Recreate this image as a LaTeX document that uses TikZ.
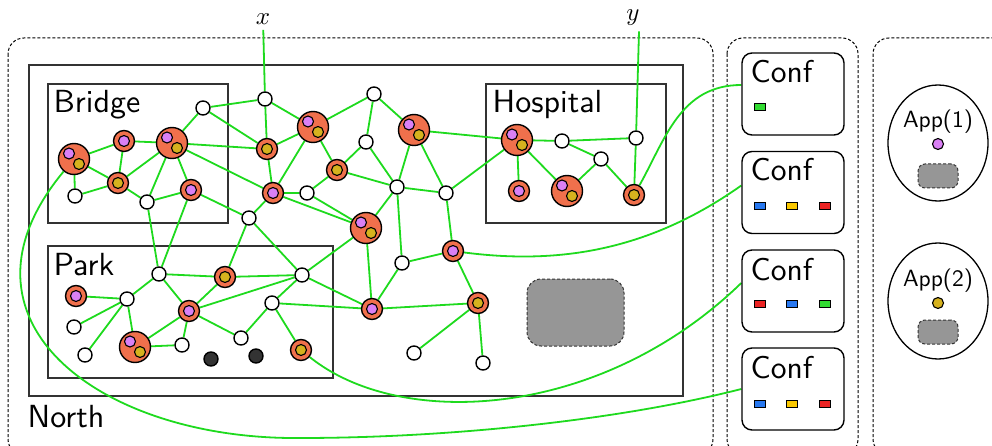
\documentclass[tikz,border=0pt]{standalone}
\usepackage{fix-cm}
\usetikzlibrary{shapes.geometric,backgrounds}

\definecolor{linkgreen}{RGB}{30,218,30}
\definecolor{devorange}{RGB}{240,112,76}
\definecolor{appviolet}{RGB}{218,128,245}
\definecolor{appgold}{RGB}{214,178,30}
\definecolor{cfgreen}{RGB}{50,220,50}
\definecolor{cfblue}{RGB}{40,120,240}
\definecolor{cfyellow}{RGB}{250,200,0}
\definecolor{cfred}{RGB}{235,35,35}
\definecolor{storegray}{RGB}{150,150,150}

\tikzset{
	wnode/.style={circle, draw, fill=white, line width=1.4pt, minimum size=14pt, inner sep=0pt},
	knode/.style={wnode, fill=black!80},
	devnode/.style={circle, draw, fill=devorange, line width=1.4pt, inner sep=0pt},
	pnode/.style={devnode, minimum size=21pt, path picture={\filldraw[fill=appviolet, line width=1.1pt] (path picture bounding box.center) circle (5.5pt);}},
	gnode/.style={devnode, minimum size=21pt, path picture={\filldraw[fill=appgold, line width=1.1pt] (path picture bounding box.center) circle (5.5pt);}},
	pgnode/.style={devnode, minimum size=31pt, path picture={
		\filldraw[fill=appviolet, line width=1.1pt] ([shift={(-5pt,5.5pt)}]path picture bounding box.center) circle (5.5pt);
		\filldraw[fill=appgold, line width=1.1pt] ([shift={(5pt,-5pt)}]path picture bounding box.center) circle (5.5pt);}},
	link/.style={linkgreen, line width=1.8pt},
	area/.style={draw=black!80, line width=1.6pt},
	zone/.style={draw=black, line width=1pt, dash pattern=on 3pt off 2pt, rounded corners=16pt},
	store/.style={draw=black!80, fill=storegray, line width=1pt, dash pattern=on 3pt off 2pt, inner sep=0pt},
	lbl/.style={font=\sffamily, scale=3.2, inner sep=0pt, anchor=base west},
	mlbl/.style={scale=2.5, inner sep=2pt},
	confbox/.style={draw, line width=1.4pt, rounded corners=10pt, minimum width=102pt, minimum height=82pt},
	sq/.style={draw, line width=1.1pt, minimum width=11pt, minimum height=7pt, inner sep=0pt},
	appell/.style={ellipse, draw, line width=1.3pt, minimum width=100pt, minimum height=116pt},
	apptext/.style={font=\sffamily, scale=2.35, inner sep=0pt, anchor=base},
	appdot/.style={circle, draw, line width=1.1pt, minimum size=11pt, inner sep=0pt}
}

\begin{document}
\begin{tikzpicture}[x=1pt, y=-1pt]
	\useasboundingbox (0,0) rectangle (992,446);

	\node[mlbl] (xlab) at (263,19) {$x$};
	\node[mlbl] (ylab) at (633,18) {$y$};

	\node[lbl] (northlbl) at (27,427) {North};
	\node[lbl] (bridgelbl) at (53,113) {Bridge};
	\node[lbl] (hosplbl) at (492,113) {Hospital};
	\node[lbl] (parklbl) at (53,275) {Park};

	\node[pgnode] (bA) at (74,159) {};
	\node[pnode] (bB) at (124,141) {};
	\node[pgnode] (bC) at (172,143) {};
	\node[gnode] (bD) at (118,183) {};
	\node[wnode] (bE) at (75,196) {};
	\node[wnode] (bF) at (147,202) {};
	\node[pnode] (bG) at (191,190) {};
	\node[wnode] (bH) at (203,108) {};

	\node[wnode] (cX) at (265,99) {};
	\node[gnode] (cA) at (267,149) {};
	\node[pgnode] (cB) at (313,127) {};
	\node[wnode] (cC) at (374,94) {};
	\node[wnode] (cD) at (366,142) {};
	\node[pgnode] (cE) at (414,130) {};
	\node[gnode] (cF) at (337,170) {};
	\node[pnode] (cG) at (273,193) {};
	\node[wnode] (cH) at (307,193) {};
	\node[wnode] (cI) at (397,187) {};
	\node[wnode] (cJ) at (446,193) {};
	\node[wnode] (cK) at (249,218) {};
	\node[pgnode] (cL) at (366,228) {};
	\node[pnode] (cM) at (453,251) {};
	\node[wnode] (cN) at (402,263) {};
	\node[pnode] (cO) at (372,309) {};
	\node[gnode] (cP) at (478,303) {};
	\node[wnode] (cQ) at (414,353) {};
	\node[wnode] (cR) at (483,363) {};

	\node[pgnode] (hA) at (517,140) {};
	\node[wnode] (hB) at (562,141) {};
	\node[wnode] (hC) at (601,159) {};
	\node[wnode] (hD) at (636,138) {};
	\node[pnode] (hE) at (519,191) {};
	\node[pgnode] (hF) at (567,191) {};
	\node[gnode] (hG) at (634,195) {};

	\node[wnode] (pA) at (159,274) {};
	\node[gnode] (pB) at (225,277) {};
	\node[wnode] (pC) at (302,275) {};
	\node[pnode] (pD) at (76,296) {};
	\node[wnode] (pE) at (127,299) {};
	\node[pnode] (pF) at (189,311) {};
	\node[wnode] (pG) at (272,303) {};
	\node[wnode] (pH) at (74,327) {};
	\node[wnode] (pI) at (241,338) {};
	\node[pgnode] (pJ) at (135,347) {};
	\node[wnode] (pK) at (182,345) {};
	\node[wnode] (pL) at (85,355) {};
	\node[knode] (pM) at (211,359) {};
	\node[knode] (pN) at (256,356) {};
	\node[gnode] (pO) at (301,350) {};

	\node[store, minimum width=97pt, minimum height=67pt, rounded corners=14pt] (northstore) at (575.5,312.5) {};

	\node[confbox] (c1) at (793,94) {};
	\node[confbox] (c2) at (793,192.5) {};
	\node[confbox] (c3) at (793,291) {};
	\node[confbox] (c4) at (793,389) {};
	\node[lbl, scale=0.985] (c1t) at (750,83) {Conf};
	\node[lbl, scale=0.985] (c2t) at (750,181) {Conf};
	\node[lbl, scale=0.985] (c3t) at (750,280) {Conf};
	\node[lbl, scale=0.985] (c4t) at (750,378) {Conf};
	\node[sq, fill=cfgreen] (c1a) at (760,107) {};
	\node[sq, fill=cfblue] (c2a) at (760,206) {};
	\node[sq, fill=cfyellow] (c2b) at (792,206) {};
	\node[sq, fill=cfred] (c2c) at (825,206) {};
	\node[sq, fill=cfred] (c3a) at (760,304) {};
	\node[sq, fill=cfblue] (c3b) at (792,304) {};
	\node[sq, fill=cfgreen] (c3c) at (825,304) {};
	\node[sq, fill=cfblue] (c4a) at (760,404) {};
	\node[sq, fill=cfyellow] (c4b) at (792,404) {};
	\node[sq, fill=cfred] (c4c) at (825,404) {};

	\node[appell] (app1) at (938,143) {};
	\node[apptext] (app1t) at (938,128) {App(1)};
	\node[appdot, fill=appviolet] (app1d) at (938,144) {};
	\node[store, minimum width=40pt, minimum height=24pt, rounded corners=7pt] (app1s) at (938,176) {};
	\node[appell] (app2) at (938,301) {};
	\node[apptext] (app2t) at (938,286) {App(2)};
	\node[appdot, fill=appgold] (app2d) at (938,303) {};
	\node[store, minimum width=40pt, minimum height=24pt, rounded corners=7pt] (app2s) at (938,332) {};

	\begin{scope}[on background layer]
		\draw[zone] (8,38) rectangle (713,455);
		\draw[zone] (727,38) rectangle (858,455);
		\draw[zone] (873,38) rectangle (1010,455);
		\draw[area] (29,65) rectangle (683,396);
		\draw[area] (48,84) rectangle (228,223);
		\draw[area] (486,84) rectangle (666,223);
		\draw[area] (48,246) rectangle (333,378);

		\draw[link] (xlab) -- (cX);
		\draw[link] ([xshift=6pt]ylab.south) -- (hD);

		\draw[link] (bA) -- (bB) (bA) -- (bD) (bA) -- (bE) (bB) -- (bC) (bB) -- (bD)
			(bC) -- (bH) (bC) -- (bD) (bC) -- (bF) (bC) -- (bG) (bC) -- (cA) (bC) -- (cG)
			(bD) -- (bE) (bD) -- (bF) (bF) -- (bG) (bG) -- (cK) (bH) -- (cX) (bH) -- (cA)
			(bF) -- (pA) (bG) -- (pA);
		\draw[link] (cX) -- (cA) (cX) -- (cB) (cA) -- (cB) (cA) -- (cG) (cG) -- (cB)
			(cG) -- (cH) (cG) -- (cK) (cG) -- (cL) (cH) -- (cL) (cH) -- (cF)
			(cB) -- (cC) (cB) -- (cF) (cC) -- (cD) (cC) -- (cE) (cD) -- (cF) (cD) -- (cI)
			(cE) -- (cI) (cE) -- (cJ) (cE) -- (hA) (cF) -- (cI) (cI) -- (cJ) (cI) -- (cL)
			(cI) -- (cN) (cJ) -- (cM) (cJ) -- (hA) (cK) -- (pB) (cK) -- (pC) (cL) -- (cO)
			(cL) -- (pC) (cN) -- (cM) (cN) -- (cO) (cM) -- (cP) (cP) -- (cO) (cP) -- (cQ)
			(cP) -- (cR) (pC) -- (cO) (pG) -- (cO);
		\draw[link] (hA) -- (hB) (hB) -- (hD) (hB) -- (hC) (hC) -- (hF) (hC) -- (hG)
			(hA) -- (hE) (hA) -- (hF) (hD) -- (hG);
		\draw[link] (pA) -- (pB) (pB) -- (pC) (pA) -- (pE) (pA) -- (pF) (pB) -- (pF)
			(pC) -- (pF) (pC) -- (pG) (pD) -- (pE) (pE) -- (pH) (pE) -- (pL) (pE) -- (pJ)
			(pJ) -- (pF) (pJ) -- (pK) (pF) -- (pK) (pF) -- (pI) (pI) -- (pG) (pG) -- (pO);

		\draw[link] (hG) .. controls (665,140) and (680,85) .. ([yshift=9pt]c1.west);
		\draw[link] (cM) .. controls (560,265) and (650,250) .. ([yshift=7pt]c2.west);
		\draw[link] (pO) .. controls (400,430) and (600,420) .. ([yshift=8pt]c3.west);
		\draw[link] (bA) .. controls (-60,320) and (100,440) .. (300,438)
			.. controls (450,438) and (620,420) .. (c4.west);
	\end{scope}
\end{tikzpicture}
\end{document}
